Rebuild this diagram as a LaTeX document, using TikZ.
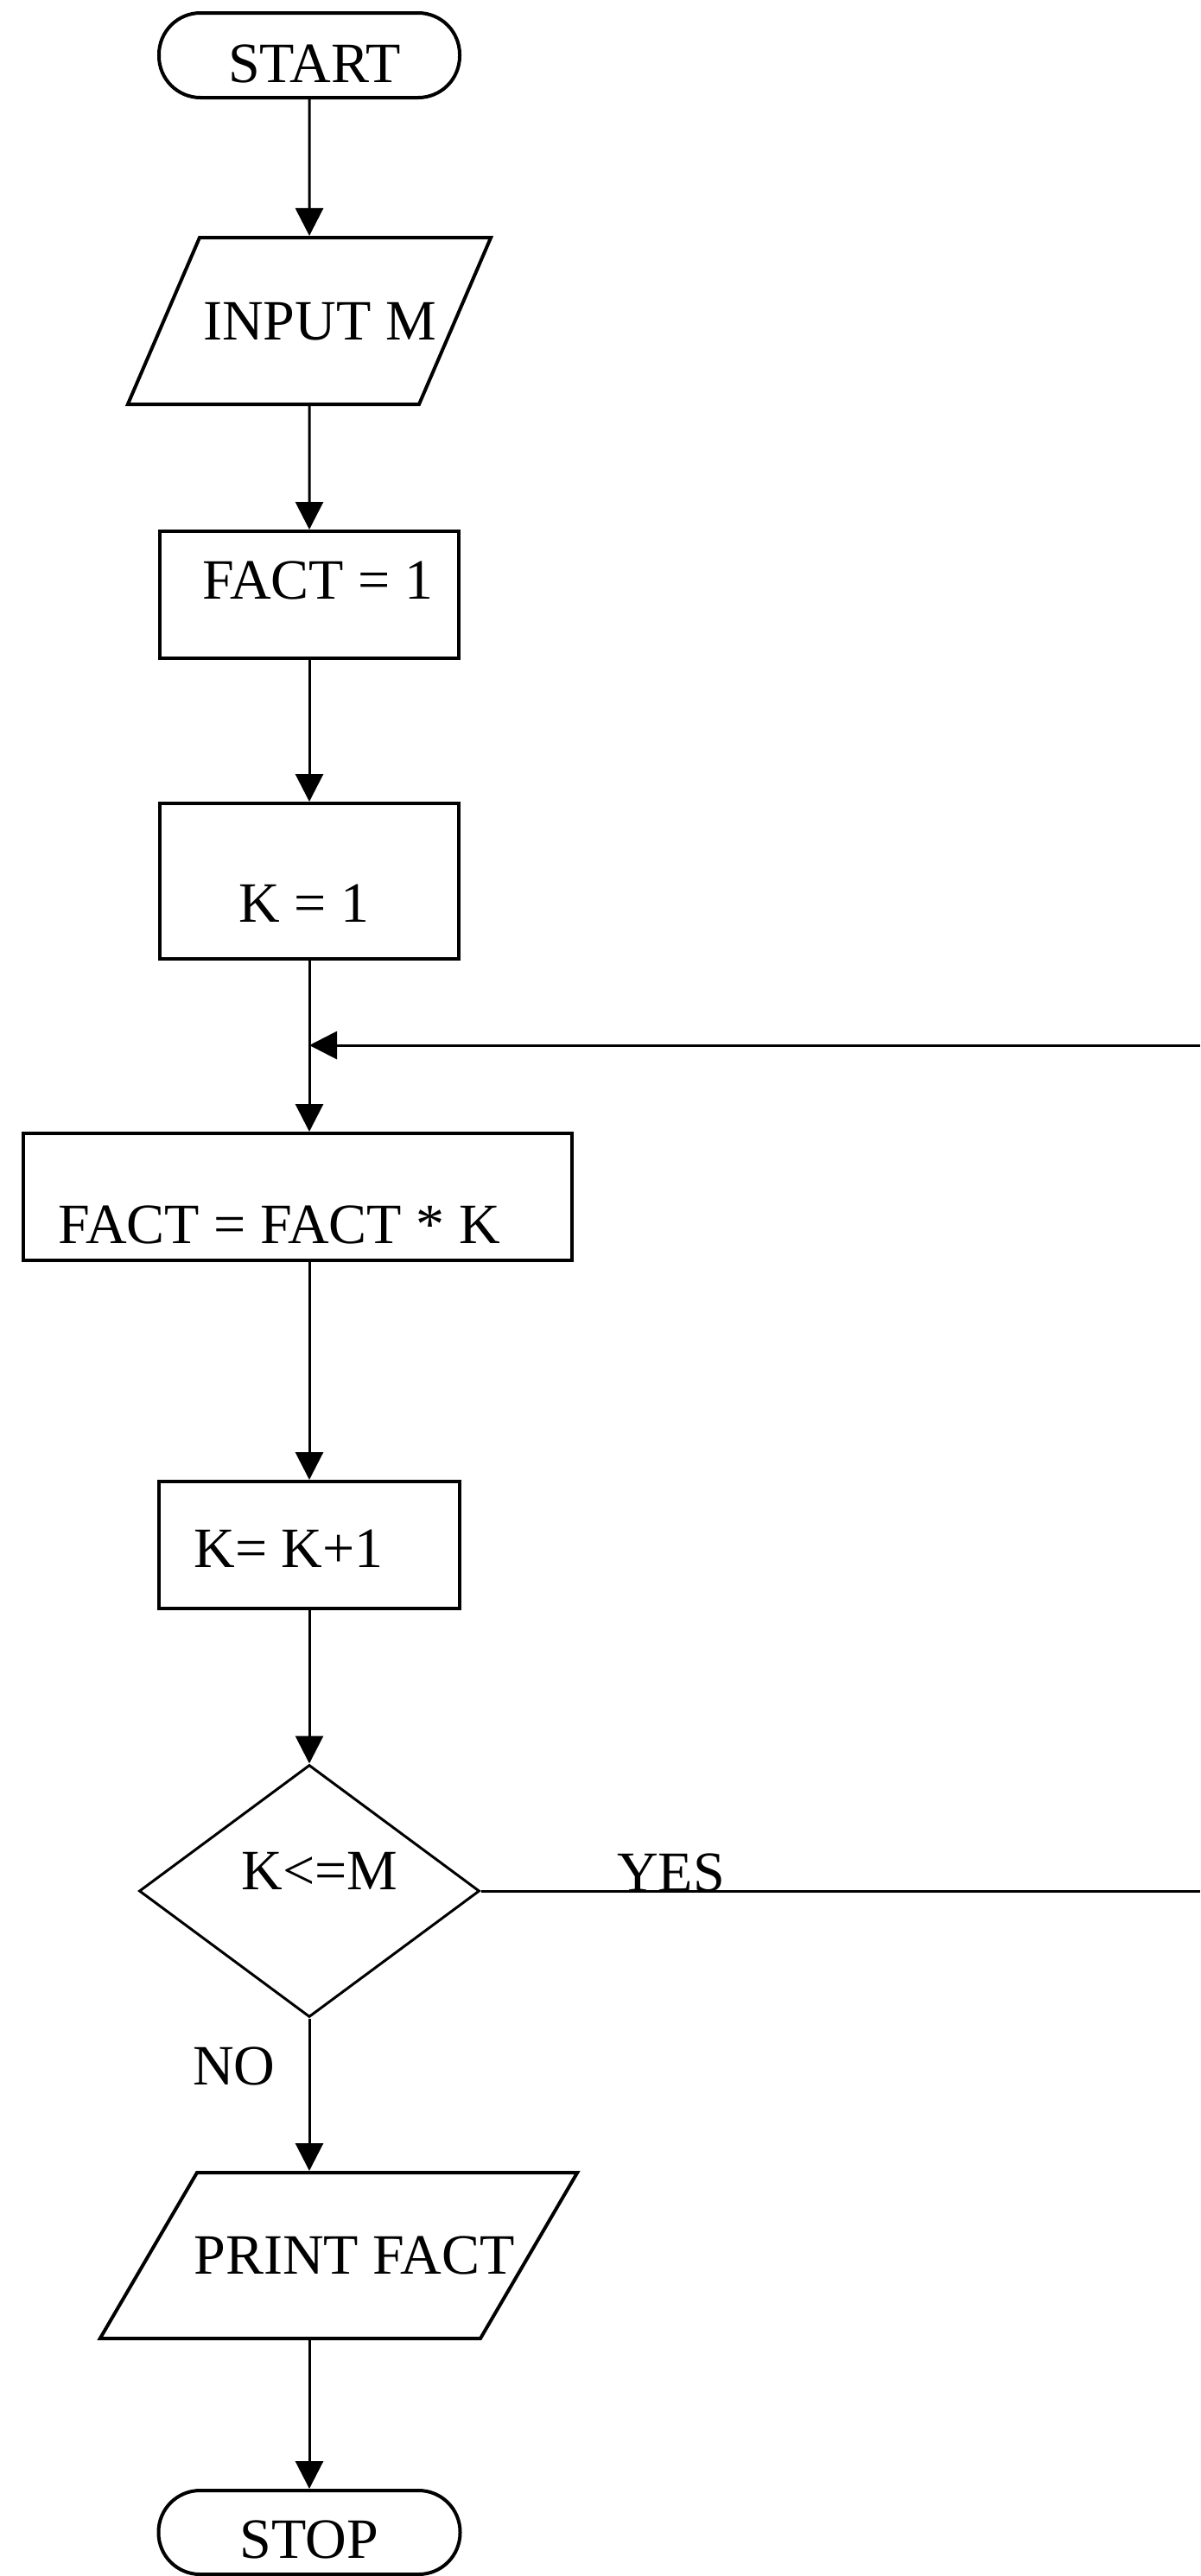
\documentclass[tikz,border=0pt]{standalone}
\usepackage{fontspec}
\setmainfont{Liberation Serif}
\usetikzlibrary{positioning,shapes.geometric,arrows.meta}
\newcommand{\nudge}[3]{\raisebox{#2}[\height][\depth]{\hspace*{#1}#3\hspace*{-#1}}}

\begin{document}
\begin{tikzpicture}[node distance=150pt,on grid,line width=1.5pt,
  >={Triangle[width=16pt,length=16pt]},
  every node/.style={font=\fontsize{33}{36}\selectfont},
  term/.style={draw,line width=2pt,rectangle,rounded corners=24pt,minimum width=174pt,minimum height=49pt,inner sep=0pt},
  proc/.style={draw,line width=2pt,rectangle,minimum width=173pt,minimum height=73.5pt,inner sep=0pt},
  io/.style={draw,line width=2pt,trapezium,trapezium stretches=true,inner sep=0pt},
  decision/.style={draw,diamond,minimum width=197pt,minimum height=146pt,inner sep=0pt}]
\useasboundingbox (0,0) rectangle (694.5pt,-1491pt);
\coordinate (rim) at (694.5pt,0);

\node[term] (start) at (179pt,-32pt) {\nudge{3pt}{-4.75pt}{START}};
\node[io,trapezium left angle=66.7,trapezium right angle=113.3] (input) [below=153.75pt of start]
  {\rule[-48.25pt]{0pt}{96.5pt}\makebox[127pt]{\nudge{6pt}{-10.8pt}{INPUT M}}};
\node[proc] (fact1) [below=158.5pt of input] {\nudge{5pt}{8.5pt}{FACT = 1}};
\node[proc,minimum height=90pt] (k1) [below=165.75pt of fact1] {\nudge{-3pt}{-13pt}{K = 1}};
\coordinate (join) at ([yshift=-95pt]k1.center);
\node[proc,minimum width=317.5pt] (factk) [below=182.75pt of k1,xshift=-6.75pt] {\nudge{-10.75pt}{-16.25pt}{FACT = FACT * K}};
\node[proc,minimum width=174pt] (kk) [below=384.25pt of k1] {\nudge{-12pt}{-2pt}{K= K+1}};
\node[decision] (test) [below=200.25pt of kk] {\nudge{6pt}{11.5pt}{K<=M}};
\node[io,trapezium left angle=59.7,trapezium right angle=120.3] (print) [below=211pt of test,xshift=17pt]
  {\rule[-48pt]{0pt}{96pt}\makebox[164pt]{\nudge{9pt}{-10.8pt}{PRINT FACT}}};
\node[term,minimum width=174.5pt,minimum height=48.5pt] (stop) [below=371.25pt of test] {\nudge{0pt}{-4pt}{STOP}};

\node[anchor=base] (yes) at ([xshift=110pt]test.east) {YES};
\node[anchor=base] (no) at ([xshift=-43.5pt,yshift=-38.5pt]test.south) {NO};

\path[->]
(start) edge (input)
(input) edge (fact1)
(fact1) edge (k1)
(k1) edge (factk.north -| k1)
(join -| rim) edge (join)
(factk.south -| kk) edge (kk)
(kk) edge (test)
(test) edge (test |- print.north)
(print.south -| stop) edge (stop)
; %end path
\path (test) edge (test -| rim);
\end{tikzpicture}
\end{document}
